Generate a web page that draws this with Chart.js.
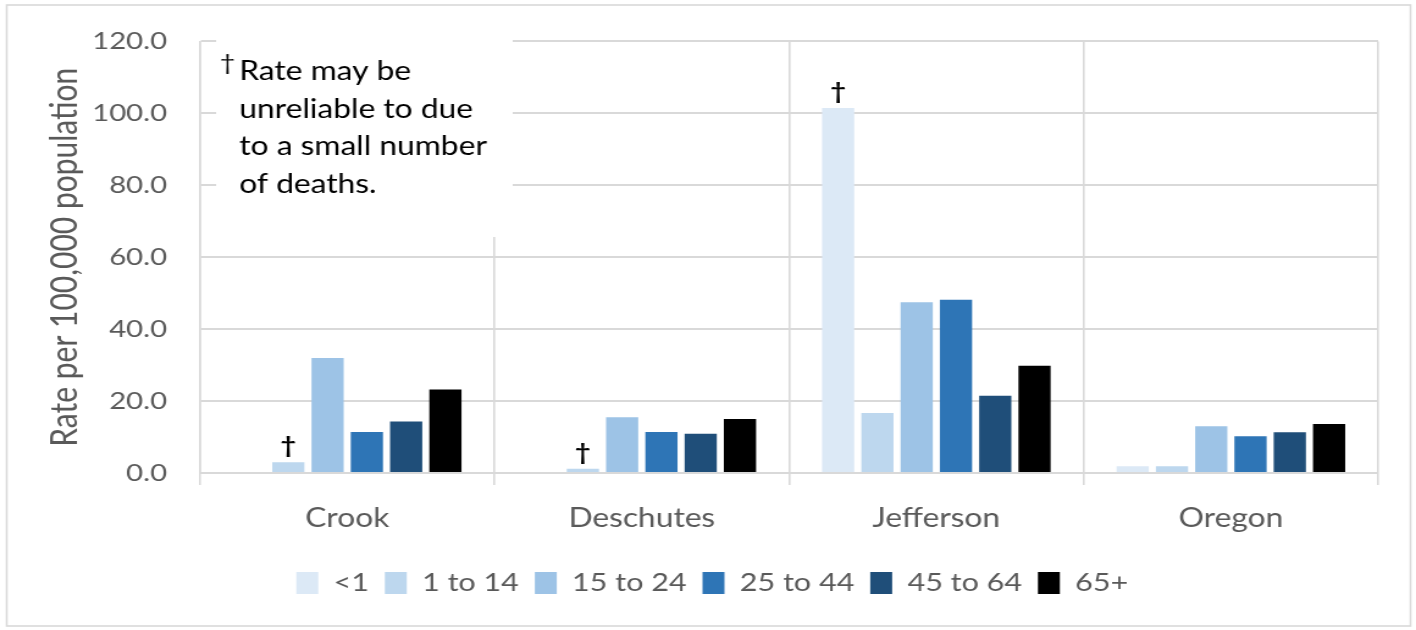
<!DOCTYPE html>
<html><head><meta charset="utf-8">
<script src="https://cdn.jsdelivr.net/npm/chart.js@4.4.0/dist/chart.umd.min.js"></script>
<style>html,body{margin:0;padding:0;background:#fff;overflow:hidden}
#c{display:block}</style></head>
<body><canvas id="c" width="1160" height="630" style="width:1416px;height:630px"></canvas>
<script>
const categories = ['Crook', 'Deschutes', 'Jefferson', 'Oregon'];
const ageGroups = ['<1', '1 to 14', '15 to 24', '25 to 44', '45 to 64', '65+'];
const rateUnder1 = [0, 0, 101.5, 1.9];
const rate1to14 = [3.0, 1.2, 16.7, 1.9];
const rate15to24 = [32.0, 15.5, 47.5, 13.0];
const rate25to44 = [11.4, 11.4, 48.2, 10.2];
const rate45to64 = [14.3, 10.9, 21.5, 11.3];
const rate65plus = [23.2, 15.0, 29.8, 13.6];
const unreliableUnder1 = [false, false, true, false];
const unreliable1to14 = [true, true, false, false];
const yTickValues = [0, 20, 40, 60, 80, 100, 120];
const yTitle = 'Rate per 100,000 population';
const noteLines = ['Rate may be', 'unreliable to due', 'to a small number', 'of deaths.'];

const colors = ['#DCE9F6', '#BDD7EE', '#9DC3E6', '#2E75B6', '#1F4E79', '#000000'];
const seriesValues = [rateUnder1, rate1to14, rate15to24, rate25to44, rate45to64, rate65plus];
const seriesFlags = [unreliableUnder1, unreliable1to14, null, null, null, null];

const GRID = '#D9D9D9';
const TEXT = '#595959';

const notePlugin = {
  id: 'note',
  afterLayout(chart) {
    const lg = chart.legend;
    if (lg) { lg.left += 14; lg.right += 14; }
  },
  beforeDatasetsDraw(chart) {
    const ctx = chart.ctx;
    ctx.save();
    ctx.fillStyle = '#ffffff';
    ctx.fillRect(177, 30, 243, 207);
    ctx.fillStyle = '#000000';
    ctx.textAlign = 'left';
    ctx.textBaseline = 'alphabetic';
    ctx.font = '22px Lato';
    ctx.fillText('\u2020', 180, 70);
    ctx.font = '26px Lato';
    noteLines.forEach((t, i) => {
      ctx.fillText(t, 196, 80 + i * 37.7);
    });
    ctx.restore();
  },
  afterDatasetsDraw(chart) {
    const ctx = chart.ctx;
    ctx.save();
    ctx.fillStyle = '#000000';
    ctx.textAlign = 'center';
    ctx.textBaseline = 'alphabetic';
    ctx.font = 'bold 22px Lato';
    seriesFlags.forEach((flags, di) => {
      if (!flags) return;
      const meta = chart.getDatasetMeta(di);
      flags.forEach((f, j) => {
        if (!f) return;
        const el = meta.data[j];
        ctx.fillText('\u2020', el.x, el.y - 9);
      });
    });
    ctx.restore();
  },
  afterDraw(chart) {
    const ctx = chart.ctx;
    ctx.save();
    ctx.strokeStyle = GRID;
    ctx.lineWidth = 1.6;
    ctx.strokeRect(5.5, 5, 1150, 621);
    ctx.restore();
  }
};

new Chart(document.getElementById('c'), {
  type: 'bar',
  data: {
    labels: categories,
    datasets: ageGroups.map((g, i) => ({
      label: g,
      data: seriesValues[i],
      backgroundColor: colors[i],
      borderWidth: 0,
      categoryPercentage: 0.8,
      barPercentage: 0.82
    }))
  },
  options: {
    responsive: false,
    animation: false,
    devicePixelRatio: 1,
    layout: { padding: { left: 10, right: 31, top: 40, bottom: 24.5 } },
    plugins: {
      legend: {
        position: 'bottom',
        labels: {
          boxWidth: 18,
          boxHeight: 22,
          padding: 13,
          color: TEXT,
          font: { family: 'Lato', size: 25 }
        }
      },
      tooltip: { enabled: false }
    },
    scales: {
      x: {
        afterFit(scale) { scale.height = 84.5; },
        grid: { offset: true, color: GRID, lineWidth: 1.6, tickLength: 12, drawTicks: true, tickColor: GRID },
        border: { color: GRID, width: 2 },
        ticks: { color: TEXT, font: { family: 'Lato', size: 26 }, padding: 18 }
      },
      y: {
        min: 0,
        max: 120,
        afterBuildTicks(scale) { scale.ticks = yTickValues.map(v => ({ value: v })); },
        afterFit(scale) { scale.width = 153.8; },
        grid: { color: GRID, lineWidth: 2, drawTicks: false },
        border: { color: GRID, width: 1.6 },
        ticks: { color: TEXT, font: { family: 'Lato', size: 24 }, padding: 27, callback: v => Number(v).toFixed(1) },
        title: { display: true, text: yTitle, color: TEXT, font: { family: 'Lato', size: 30 }, padding: { top: 25, bottom: 0 } }
      }
    }
  },
  plugins: [notePlugin]
});
</script>
</body></html>
